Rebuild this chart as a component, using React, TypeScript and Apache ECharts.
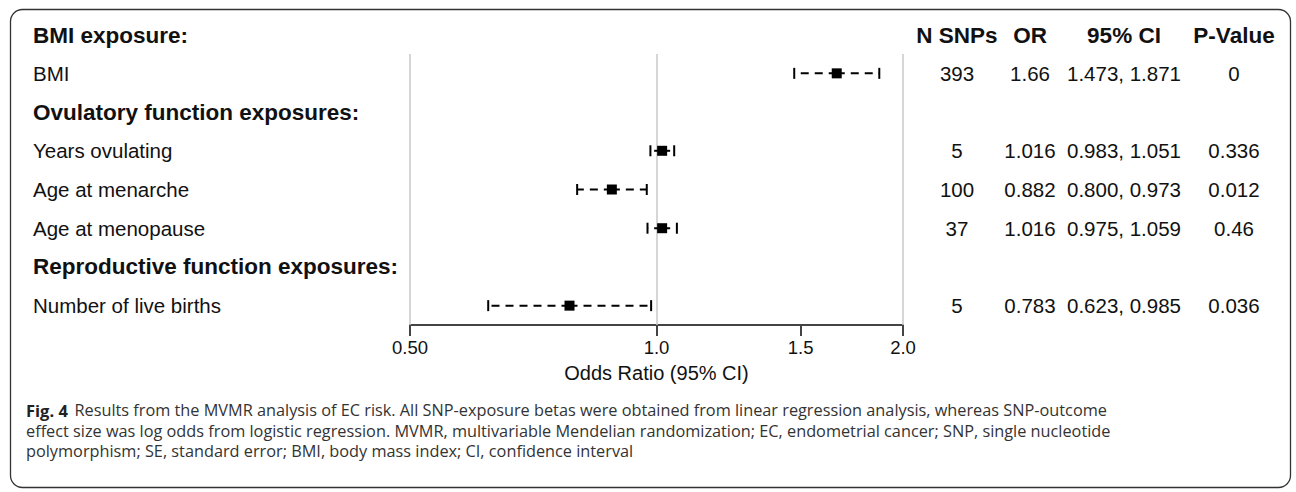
import React, { useEffect, useRef } from "react";
import * as echarts from "echarts";

const rowNames = [
  "BMI",
  "Ovulatory function exposures:",
  "Years ovulating",
  "Age at menarche",
  "Age at menopause",
  "Reproductive function exposures:",
  "Number of live births",
];
const headerRows = ["Ovulatory function exposures:", "Reproductive function exposures:"];
const topHeader = "BMI exposure:";
const orValues = [1.66, null, 1.016, 0.882, 1.016, null, 0.783];
const ciLower = [1.473, null, 0.983, 0.8, 0.975, null, 0.623];
const ciUpper = [1.871, null, 1.051, 0.973, 1.059, null, 0.985];
const nSnps = ["393", "", "5", "100", "37", "", "5"];
const pValues = ["0", "", "0.336", "0.012", "0.46", "", "0.036"];
const columnHeaders = ["N SNPs", "OR", "95% CI", "P-Value"];
const tickValues = [0.5, 1, 1.5, 2];
const tickLabels = ["0.50", "1.0", "1.5", "2.0"];
const gridValues = [0.5, 1, 2];
const axisTitle = "Odds Ratio (95% CI)";
const captionLines = [
  "Results from the MVMR analysis of EC risk. All SNP-exposure betas were obtained from linear regression analysis, whereas SNP-outcome",
  "effect size was log odds from logistic regression. MVMR, multivariable Mendelian randomization; EC, endometrial cancer; SNP, single nucleotide",
  "polymorphism; SE, standard error; BMI, body mass index; CI, confidence interval",
];
const captionLabel = "Fig. 4";

const FONT = "'Liberation Sans', Arial, Helvetica, sans-serif";
const CAPFONT = "'Open Sans', sans-serif";
const TXT = "#111";

const orText = orValues.map((v) => (v == null ? "" : String(v)));
const ciText = ciLower.map((l, i) =>
  l == null ? "" : `${l.toFixed(3)}, ${(ciUpper[i] as number).toFixed(3)}`
);
const columns = [nSnps, orText, ciText, pValues];
const columnCenters = [957, 1030, 1124, 1234];

export default function App() {
  const ref = useRef<HTMLDivElement>(null);
  useEffect(() => {
    document.body.style.margin = "0";
    const chart = echarts.init(ref.current!, null, { renderer: "svg" });
    const gridLeft = 410;
    const gridRight = 903;
    const labelX = 33;
    const data = orValues
      .map((v, i) =>
        v == null ? null : [Math.log2(v), Math.log2(ciLower[i] as number), Math.log2(ciUpper[i] as number), i]
      )
      .filter((d) => d != null);

    const yAxes: any[] = [
      {
        type: "category",
        data: rowNames,
        inverse: true,
        axisLine: { show: false },
        axisTick: { show: false },
        axisLabel: {
          interval: 0,
          align: "left",
          margin: gridLeft - labelX,
          formatter: (v: string) => (headerRows.includes(v) ? `{b|${v}}` : `{n|${v}}`),
          rich: {
            b: { fontFamily: FONT, fontWeight: "bold", fontSize: 22.5, color: TXT },
            n: { fontFamily: FONT, fontSize: 20.5, color: TXT },
          },
        },
      },
    ];
    columns.forEach((col, ci) => {
      yAxes.push({
        type: "category",
        data: col.map((c, i) => c || " ".repeat(i + 1)),
        inverse: true,
        position: "right",
        offset: columnCenters[ci] - gridRight,
        axisLine: { show: false },
        axisTick: { show: false },
        axisLabel: {
          interval: 0,
          align: "center",
          margin: 0,
          fontFamily: FONT,
          fontSize: 20.5,
          color: TXT,
        },
      });
    });

    const graphic: any[] = [
      {
        type: "rect",
        shape: { x: 10.5, y: 9.5, width: 1280, height: 478, r: 12 },
        style: { fill: "none", stroke: "#333", lineWidth: 1.3 },
        silent: true,
      },
      {
        type: "text",
        x: labelX,
        y: 35,
        style: {
          text: topHeader,
          font: `bold 22.5px ${FONT}`,
          fill: TXT,
          textVerticalAlign: "middle",
        },
      },
      ...columnHeaders.map((h, i) => ({
        type: "text",
        x: columnCenters[i],
        y: 35,
        style: {
          text: h,
          font: `bold 22.5px ${FONT}`,
          fill: TXT,
          textAlign: "center",
          textVerticalAlign: "middle",
        },
      })),
      {
        type: "text",
        x: 26,
        y: 410,
        style: {
          text: `{b|${captionLabel}}  {n|${captionLines[0]}}`,
          rich: {
            b: { font: `bold 16.5px ${CAPFONT}`, fill: "#222" },
            n: { font: `16.3px ${CAPFONT}`, fill: "#333" },
          },
          textVerticalAlign: "middle",
        },
      },
      ...captionLines.slice(1).map((l, i) => ({
        type: "text",
        x: 26,
        y: 430.5 + i * 20.5,
        style: {
          text: l,
          font: `16.3px ${CAPFONT}`,
          fill: "#333",
          textVerticalAlign: "middle",
        },
      })),
    ];

    chart.setOption({
      animation: false,
      grid: { left: gridLeft, right: 1296 - gridRight, top: 54, height: 271 },
      xAxis: {
        type: "value",
        min: -1,
        max: 1,
        name: axisTitle,
        nameLocation: "middle",
        nameGap: 38,
        nameTextStyle: { fontFamily: FONT, fontSize: 20, color: TXT },
        axisLine: { show: true, lineStyle: { color: "#444", width: 2 } },
        axisTick: {
          show: true,
          length: 11,
          customValues: tickValues.map((v) => Math.log2(v)),
          lineStyle: { color: "#444", width: 2 },
        },
        axisLabel: {
          customValues: tickValues.map((v) => Math.log2(v)),
          margin: 13,
          fontFamily: FONT,
          fontSize: 18.5,
          color: TXT,
          formatter: (v: number) => {
            const i = tickValues.findIndex((t) => Math.abs(Math.log2(t) - v) < 1e-6);
            return i >= 0 ? tickLabels[i] : "";
          },
        },
        splitLine: { show: false },
      },
      yAxis: yAxes,
      graphic,
      series: [
        {
          type: "line",
          data: [],
          z: 1,
          markLine: {
            silent: true,
            symbol: ["none", "none"],
            label: { show: false },
            lineStyle: { color: "#c8c8c8", width: 1.5, type: "solid" },
            data: gridValues.map((v) => ({ xAxis: Math.log2(v) })),
          },
        },
        {
          type: "custom",
          z: 5,
          encode: { x: [0, 1, 2], y: 3 },
          data,
          renderItem: (params: any, api: any) => {
            const yi = api.value(3);
            const p = api.coord([api.value(0), yi]);
            const xo = p[0];
            const y = p[1];
            const xl = api.coord([api.value(1), yi])[0];
            const xh = api.coord([api.value(2), yi])[0];
            const s = 5;
            const cap = 5.5;
            const st = { stroke: "#000", lineWidth: 2 };
            return {
              type: "group",
              children: [
                { type: "line", shape: { x1: xo, y1: y, x2: xl, y2: y }, style: { ...st, lineDash: [8, 6] } },
                { type: "line", shape: { x1: xo, y1: y, x2: xh, y2: y }, style: { ...st, lineDash: [8, 6] } },
                { type: "line", shape: { x1: xl, y1: y - cap, x2: xl, y2: y + cap }, style: st },
                { type: "line", shape: { x1: xh, y1: y - cap, x2: xh, y2: y + cap }, style: st },
                { type: "rect", shape: { x: xo - s, y: y - s, width: 2 * s, height: 2 * s }, style: { fill: "#000" } },
              ],
            };
          },
        },
      ],
    });
    return () => chart.dispose();
  }, []);
  return <div ref={ref} style={{ width: 1296, height: 492 }} />;
}
